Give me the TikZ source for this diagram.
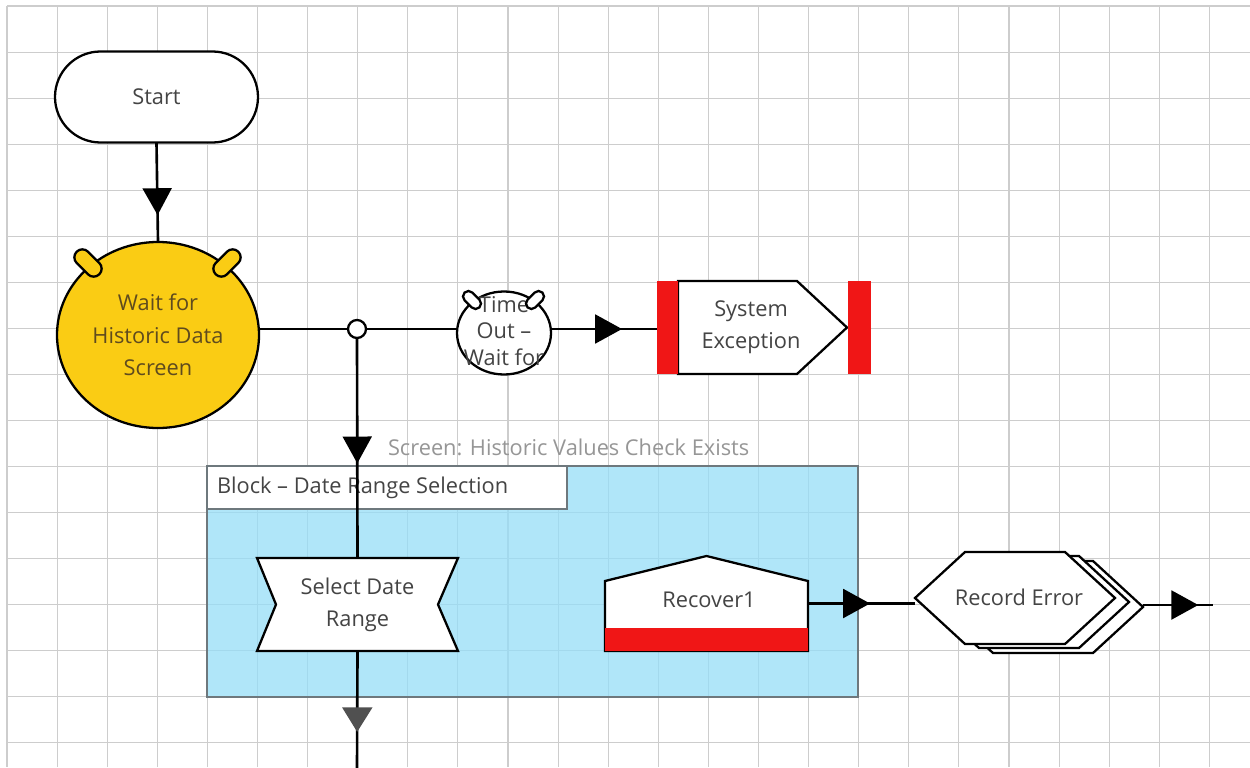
\documentclass[tikz,border=0pt]{standalone}
\usepackage{fontspec}
\setmainfont{Open Sans}
\usetikzlibrary{shapes.geometric,shapes.misc,arrows.meta,decorations.markings,calc}
\newdimen\pxu \pxu=0.02cm
\definecolor{waitY}{RGB}{250,204,20}
\definecolor{bpred}{RGB}{240,22,22}
\definecolor{blkfill}{RGB}{150,222,248}
\definecolor{blkline}{RGB}{110,120,125}
\definecolor{txt}{RGB}{68,68,68}
\definecolor{waittxt}{RGB}{95,75,30}
\definecolor{lbltxt}{RGB}{150,150,150}
\definecolor{gridc}{RGB}{205,205,205}
\definecolor{tipgray}{RGB}{80,80,80}
\pgfdeclarelayer{bg}
\pgfdeclarelayer{blk}
\pgfdeclarelayer{conn}
\pgfdeclarelayer{shp}
\pgfsetlayers{bg,blk,conn,shp,main}
\tikzset{
  every node/.style={font=\fontsize{12.4}{18.4}\selectfont, text=txt, inner sep=0pt, outer sep=0pt, align=center},
  gridline/.style={draw=gridc, line width=0.6pt},
  box/.style={draw=black, line width=1.3pt, fill=white},
  conn/.style={draw=black, line width=1.5pt},
  midtip/.style={postaction=decorate, decoration={markings, mark=at position #1 with {\arrow{Triangle[length=15.3pt,width=16.4pt]}}}},
  graytip/.style={postaction=decorate, decoration={markings, mark=at position #1 with {\arrow[tipgray]{Triangle[length=14pt,width=17pt]}}}},
  ear/.style={rounded rectangle, draw=black, line width=1.3pt},
}
\begin{document}
\begin{tikzpicture}[x=0.02cm, y=-0.02cm]
\useasboundingbox (0,0) rectangle (1250,767);
\begin{pgfonlayer}{bg}
  \fill[white] (0,0) rectangle (1250,767);
  \foreach \k in {0,...,24} \draw[gridline] ({7+50.1*\k},6) -- ({7+50.1*\k},767);
  \foreach \j in {0,...,16} \draw[gridline] (7,{6+46.06*\j}) -- (1250,{6+46.06*\j});
\end{pgfonlayer}

% Block
\begin{pgfonlayer}{blk}
  \node[minimum width=651\pxu, minimum height=231\pxu, fill=blkfill, fill opacity=0.75, draw=blkline, draw opacity=1, line width=1pt] (block) at (532.5,581.5) {};
  \node[minimum width=360\pxu, minimum height=43\pxu, fill=white, draw=blkline, line width=1pt, anchor=north west] (blabel) at (block.north west) {};
  \node[anchor=west] (blabeltxt) at ($(blabel.west)+(10,0)$) {Block \textendash{} Date Range Selection};
\end{pgfonlayer}
\node[anchor=west, text=lbltxt] (scrlabel) at (388,447) {Screen: Historic Values Check Exists};

% Start
\node[rounded rectangle, box, minimum width=203\pxu, minimum height=91\pxu] (start) at (156.5,97) {Start};

% Wait stage
\node[ellipse, draw=black, line width=1.3pt, fill=waitY, minimum width=202\pxu, minimum height=186\pxu, text=waittxt] (wait) at (158,335) {Wait for\\Historic Data\\Screen};
\node[ear, fill=waitY, minimum width=32\pxu, minimum height=16\pxu, rotate=-45] (earL) at ($(wait.center)+(-70,-72)$) {};
\node[ear, fill=waitY, minimum width=32\pxu, minimum height=16\pxu, rotate=45] (earR) at ($(wait.center)+(69,-72)$) {};

% Junction
\node[circle, box, minimum size=18\pxu] (jn) at (357,329) {};

% Time out
\node[ellipse, box, minimum width=94\pxu, minimum height=83\pxu] (to) at (504,333) {};
\begin{scope}
  \clip ($(to.center)+(-47,-42)$) rectangle ($(to.center)+(40,42)$);
  \node[font=\fontsize{12.4}{15.3}\selectfont] (totxt) at (504,331) {Time\\Out \textendash\\Wait for};
\end{scope}
\node[ear, fill=white, minimum width=21\pxu, minimum height=11\pxu, rotate=-45] (toearL) at (472,300) {};
\node[ear, fill=white, minimum width=21\pxu, minimum height=11\pxu, rotate=45] (toearR) at (535,300) {};

% System exception
\node[minimum width=169\pxu, minimum height=93\pxu] (se) at (762.5,327.5) {};
\node (setxt) at (751,327) {System\\Exception};
\begin{pgfonlayer}{shp}
  \draw[box] (se.north west) -- ($(se.north east)+(-50,0)$) -- (se.east) -- ($(se.south east)+(-50,0)$) -- (se.south west) -- cycle;
\end{pgfonlayer}
\node[fill=bpred, minimum width=21\pxu, minimum height=93\pxu, anchor=east] (sebarL) at (se.west) {};
\node[fill=bpred, minimum width=23\pxu, minimum height=93\pxu, anchor=west] (sebarR) at ($(se.east)+(1,0)$) {};

% Select date range
\node[minimum width=201\pxu, minimum height=93\pxu] (sel) at (357.5,604.5) {Select Date\\Range};
\begin{pgfonlayer}{shp}
  \draw[box] (sel.north west) -- (sel.north east) -- ($(sel.east)+(-20,0)$) -- (sel.south east) -- (sel.south west) -- ($(sel.west)+(19,0)$) -- cycle;
\end{pgfonlayer}

% Recover
\node[minimum width=203\pxu, minimum height=95\pxu] (rec) at (706.5,603.5) {};
\node (rectxt) at (709,600) {Recover1};
\begin{pgfonlayer}{shp}
  \draw[box] (rec.south west) -- ($(rec.north west)+(0,25)$) -- (rec.north) -- ($(rec.north east)+(0,25)$) -- (rec.south east) -- cycle;
  \fill[bpred] ($(rec.south west)+(0,-23)$) rectangle (rec.south east);
\end{pgfonlayer}

% Record error (multiple)
\node[minimum width=200\pxu, minimum height=92\pxu] (re) at (1015,598) {};
\node (retxt) at (1019,597) {Record Error};
\begin{pgfonlayer}{shp}
  \foreach \dx/\dy in {28/9,14/4,0/0}
    \draw[box] ($(re.west)+(\dx,\dy)$) -- ($(re.north west)+(50+\dx,\dy)$) -- ($(re.north east)+(-50+\dx,\dy)$) -- ($(re.east)+(\dx,\dy)$) -- ($(re.south east)+(-50+\dx,\dy)$) -- ($(re.south west)+(50+\dx,\dy)$) -- cycle;
\end{pgfonlayer}
\coordinate (reout) at ($(re.east)+(28,7)$);
\coordinate (reend) at ($(reout)+(70,0)$);
\coordinate (bottomend) at (357,770);

% Connectors
\begin{pgfonlayer}{conn}
  \draw[conn, midtip=0.73] (start.south) -- (wait.north);
  \draw[conn] (jn -| wait.east) -- (jn.west);
  \draw[conn] (jn.east) -- (jn -| to.west);
  \draw[conn, midtip=0.67] (jn -| to.east) -- (jn -| sebarL.west);
  \draw[conn, midtip=0.57] (jn.south) -- (sel.north);
  \draw[conn, graytip=0.68] (sel.south) -- (bottomend);
  \draw[conn, midtip=0.58] (rec.east) -- (rec.east -| re.west);
  \draw[conn, midtip=0.79] (reout) -- (reend);
\end{pgfonlayer}
\end{tikzpicture}
\end{document}
